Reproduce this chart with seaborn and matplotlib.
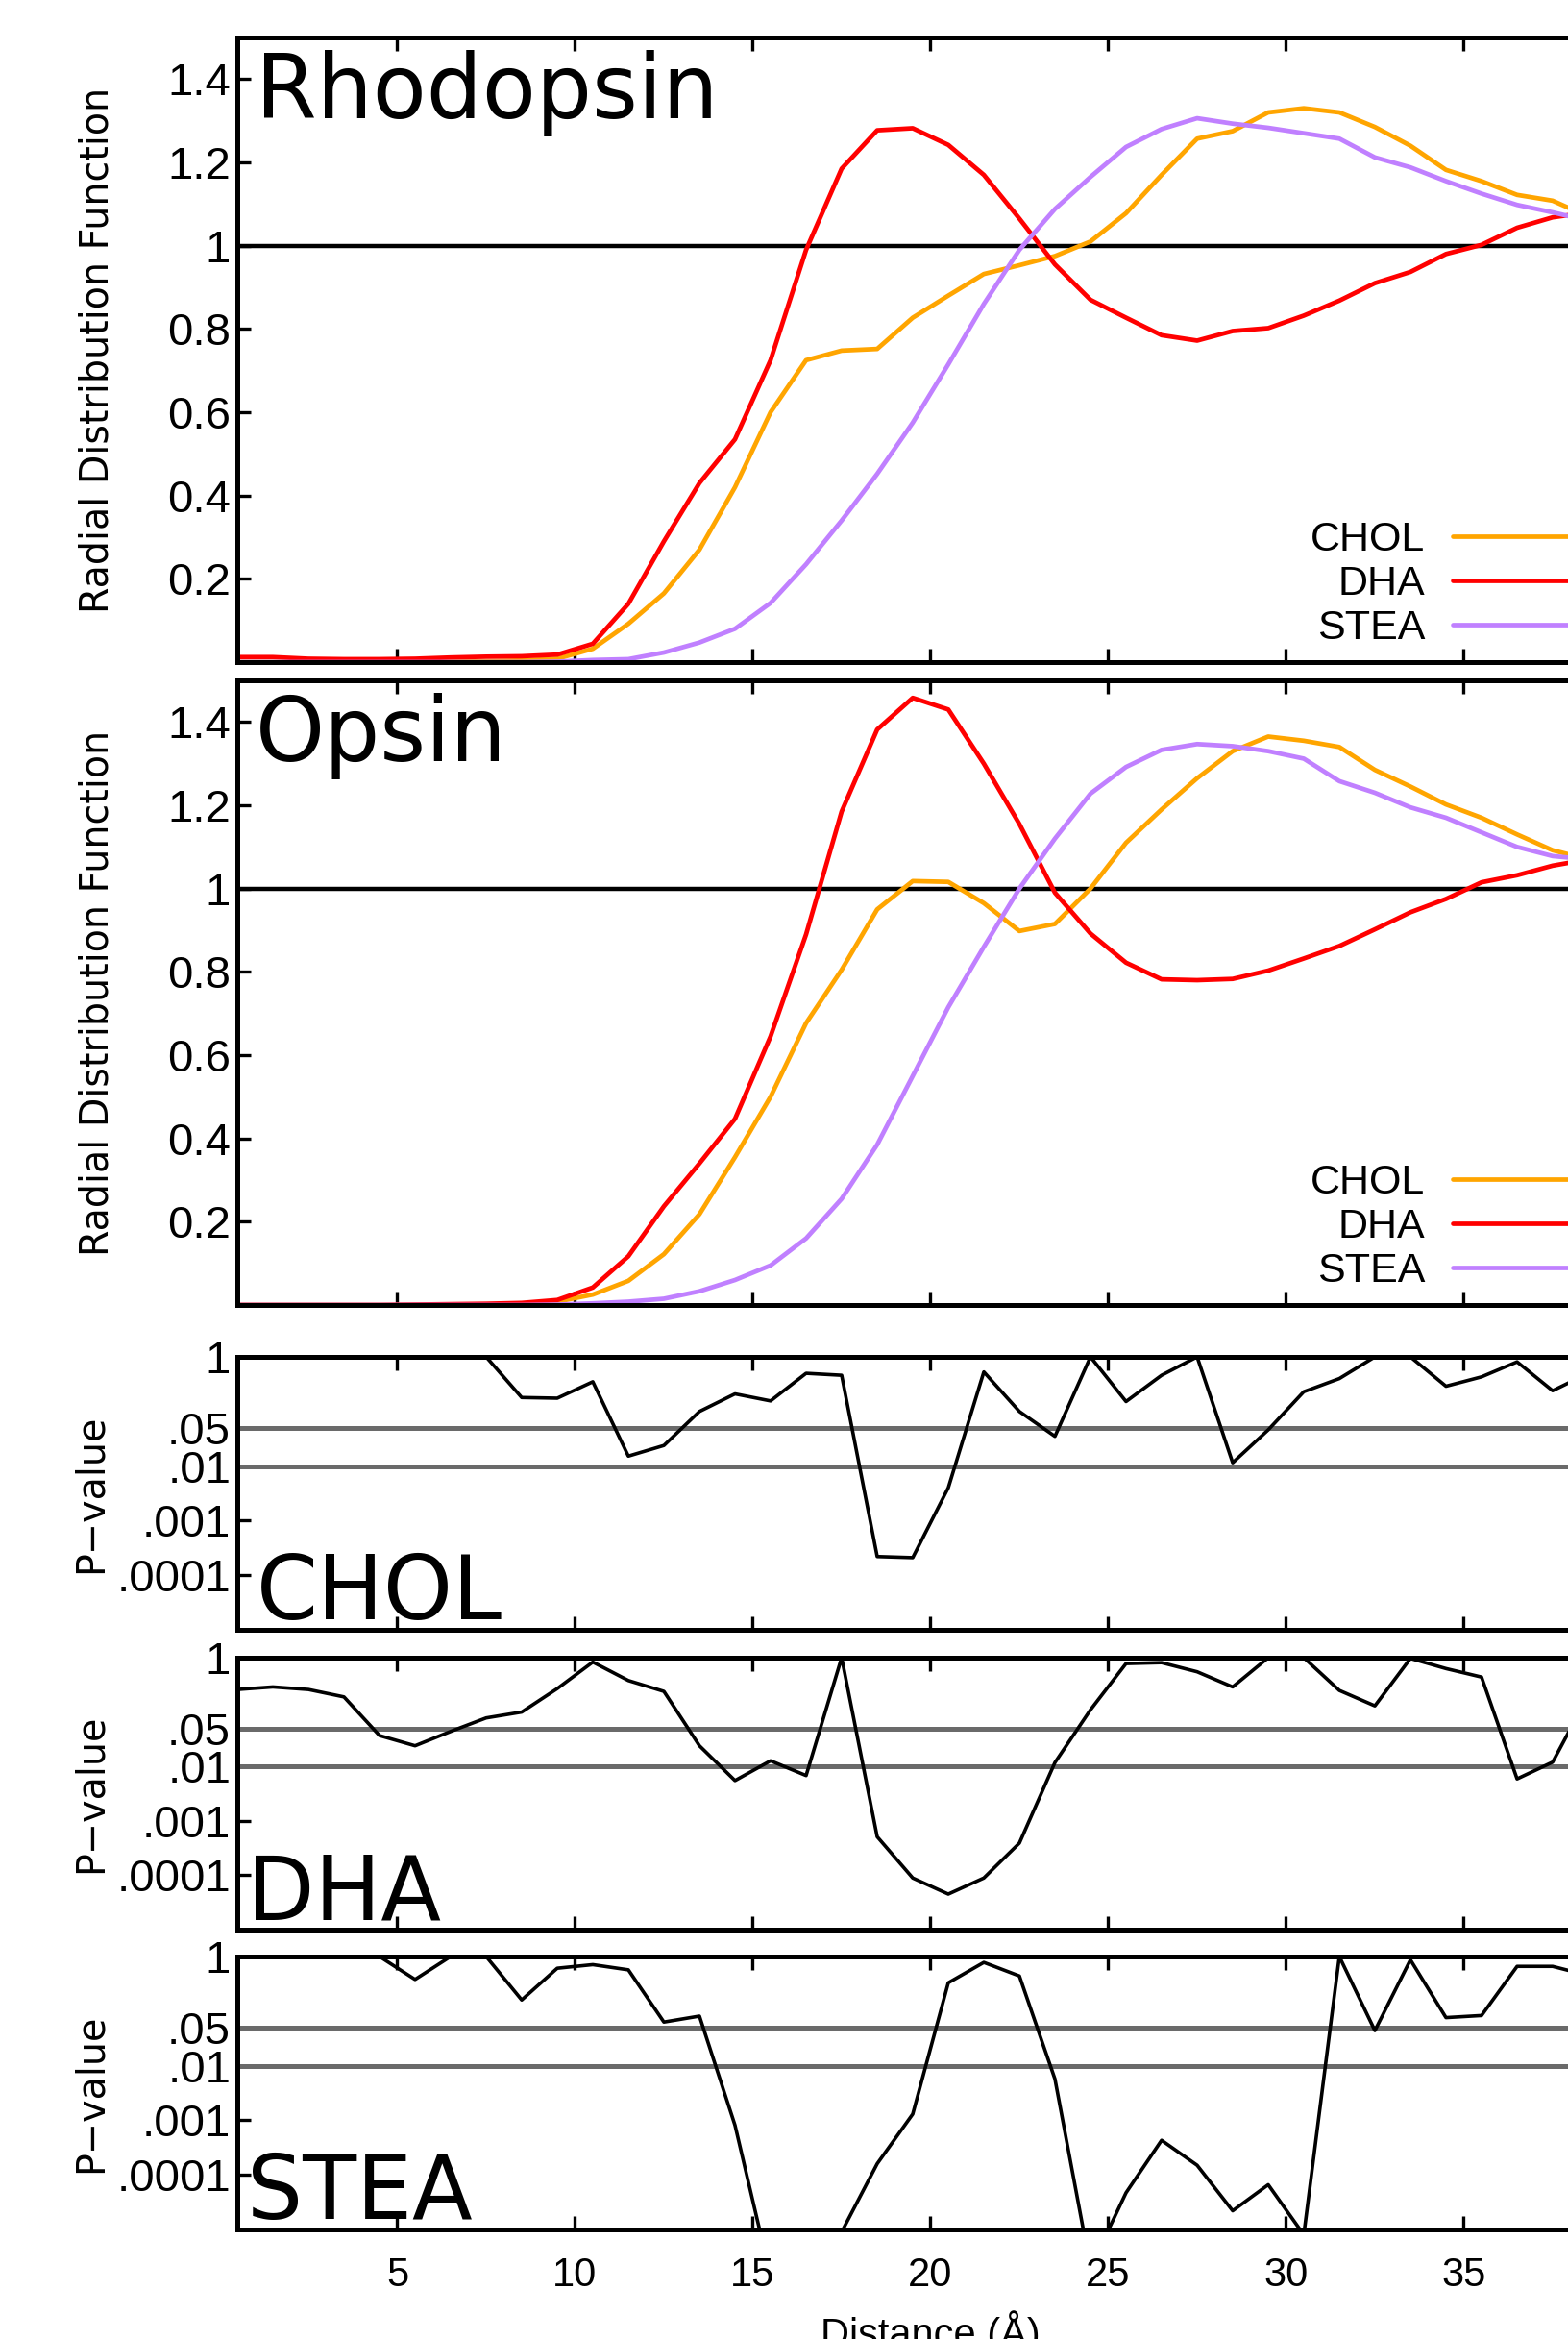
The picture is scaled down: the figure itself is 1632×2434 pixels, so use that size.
import matplotlib
matplotlib.use("Agg")
import matplotlib.pyplot as plt
import seaborn as sns

# bin centres (Angstrom)
distance = [0.5, 1.5, 2.5, 3.5, 4.5, 5.5, 6.5, 7.5, 8.5, 9.5,
            10.5, 11.5, 12.5, 13.5, 14.5, 15.5, 16.5, 17.5, 18.5, 19.5,
            20.5, 21.5, 22.5, 23.5, 24.5, 25.5, 26.5, 27.5, 28.5, 29.5,
            30.5, 31.5, 32.5, 33.5, 34.5, 35.5, 36.5, 37.5, 38.5, 39.5]

lipids = ["CHOL", "DHA", "STEA"]

# radial distribution functions, rhodopsin
rho_chol = [0.0, 0.0, 0.0, 0.0, 0.0, 0.0, 0.001, 0.002, 0.004, 0.008,
            0.032, 0.092, 0.165, 0.27, 0.42, 0.60, 0.725, 0.748, 0.752, 0.827,
            0.88, 0.932, 0.953, 0.975, 1.01, 1.078, 1.17, 1.257, 1.275, 1.32,
            1.33, 1.32, 1.285, 1.24, 1.182, 1.155, 1.122, 1.108, 1.07, 1.06]
rho_dha = [0.012, 0.012, 0.008, 0.007, 0.007, 0.008, 0.011, 0.013, 0.014, 0.018,
           0.044, 0.14, 0.29, 0.43, 0.535, 0.725, 0.99, 1.185, 1.277, 1.282,
           1.242, 1.17, 1.065, 0.955, 0.87, 0.827, 0.785, 0.772, 0.795, 0.802,
           0.832, 0.868, 0.91, 0.937, 0.98, 1.002, 1.043, 1.068, 1.08, 1.09]
rho_stea = [0.0, 0.0, 0.0, 0.0, 0.0, 0.0, 0.0, 0.0, 0.0, 0.001,
            0.005, 0.007, 0.023, 0.047, 0.08, 0.142, 0.235, 0.34, 0.452, 0.575,
            0.715, 0.86, 0.99, 1.088, 1.165, 1.237, 1.28, 1.306, 1.293, 1.283,
            1.27, 1.257, 1.212, 1.188, 1.155, 1.125, 1.098, 1.08, 1.06, 1.05]

# radial distribution functions, opsin
ops_chol = [0.0, 0.0, 0.0, 0.0, 0.0, 0.0, 0.0, 0.001, 0.003, 0.008,
            0.025, 0.058, 0.122, 0.218, 0.355, 0.50, 0.677, 0.805, 0.95, 1.018,
            1.016, 0.965, 0.898, 0.915, 1.0, 1.11, 1.19, 1.265, 1.33, 1.365,
            1.355, 1.34, 1.285, 1.245, 1.202, 1.17, 1.13, 1.092, 1.07, 1.06]
ops_dha = [0.0, 0.0, 0.0, 0.0, 0.0, 0.001, 0.002, 0.003, 0.005, 0.012,
           0.042, 0.117, 0.237, 0.34, 0.447, 0.645, 0.89, 1.185, 1.382, 1.458,
           1.43, 1.30, 1.155, 0.99, 0.892, 0.822, 0.782, 0.78, 0.783, 0.803,
           0.832, 0.862, 0.902, 0.943, 0.975, 1.015, 1.032, 1.055, 1.07, 1.08]
ops_stea = [0.0, 0.0, 0.0, 0.0, 0.0, 0.0, 0.0, 0.0, 0.0, 0.001,
            0.004, 0.008, 0.015, 0.033, 0.06, 0.095, 0.16, 0.255, 0.385, 0.55,
            0.715, 0.86, 1.0, 1.12, 1.228, 1.292, 1.333, 1.347, 1.342, 1.33,
            1.312, 1.258, 1.23, 1.195, 1.17, 1.135, 1.10, 1.078, 1.07, 1.06]

# p-values rhodopsin vs opsin
p_chol = [1.0, 1.0, 1.0, 1.0, 1.0, 1.0, 1.0, 1.0, 0.18, 0.175,
          0.35, 0.0152, 0.0238, 0.1, 0.21, 0.156, 0.5, 0.46, 2.2e-4, 2.1e-4,
          0.004, 0.53, 0.1, 0.035, 1.0, 0.152, 0.46, 1.0, 0.0115, 0.046,
          0.23, 0.40, 1.0, 1.0, 0.29, 0.43, 0.81, 0.24, 0.5, 0.6]
p_dha = [0.26, 0.29, 0.26, 0.19, 0.037, 0.024, 0.044, 0.078, 0.10, 0.27,
         0.83, 0.38, 0.24, 0.024, 0.0055, 0.0127, 0.0068, 1.0, 5.1e-4, 8.9e-5,
         4.5e-5, 8.9e-5, 3.9e-4, 0.0118, 0.11, 0.78, 0.81, 0.55, 0.29, 1.0,
         1.0, 0.25, 0.13, 0.97, 0.63, 0.44, 0.0059, 0.012, 0.2, 0.4]
p_stea = [1.0, 1.0, 1.0, 1.0, 1.0, 0.38, 1.0, 1.0, 0.16, 0.61,
          0.71, 0.57, 0.063, 0.081, 8.1e-4, 1.4e-6, 1e-7, 9e-6, 1.6e-4, 1.3e-3,
          0.33, 0.78, 0.44, 5.7e-3, 2e-6, 4.7e-5, 4.3e-4, 1.5e-4, 2.2e-5, 6.6e-5,
          8e-6, 1.0, 0.044, 0.87, 0.076, 0.083, 0.66, 0.66, 0.45, 0.5]

rdf_ticks = [0.2, 0.4, 0.6, 0.8, 1.0, 1.2, 1.4]
rdf_ticklabels = ["0.2", "0.4", "0.6", "0.8", "1", "1.2", "1.4"]
p_ticks = [1.0, 0.05, 0.01, 0.001, 0.0001]
p_ticklabels = ["1", ".05", ".01", ".001", ".0001"]
p_levels = [0.05, 0.01]
x_ticks = [5, 10, 15, 20, 25, 30, 35]

COLORS = ["#ffa500", "#ff0000", "#c080ff"]
BIG = 66
LW = 3.4

sns.set_style("ticks")
plt.rcParams["font.family"] = ["Liberation Sans", "DejaVu Sans"]
plt.rcParams.update({
    "axes.linewidth": 3.6,
    "axes.edgecolor": "black",
    "text.color": "black",
    "axes.labelcolor": "black",
    "xtick.color": "black",
    "ytick.color": "black",
})

fig = plt.figure(figsize=(16.33, 24.34), dpi=100)
FIG_H = 2434
LEFT = 247 / 1633
WIDTH = 1443 / 1633  # right part of the plot runs past the page edge


def box(top, bottom):
    return [LEFT, 1 - bottom / FIG_H, WIDTH, (bottom - top) / FIG_H]


def style_axis(ax):
    ax.set_xlim(0.5, 39.5)
    ax.set_xticks(x_ticks)
    ax.tick_params(axis="both", which="both", direction="in", length=10,
                   width=2.4, top=True, right=False, labelbottom=False)
    ax.tick_params(axis="y", pad=5)
    ax.set_xlabel("")


rdf_panels = [
    ("Rhodopsin", [rho_chol, rho_dha, rho_stea], (39, 689)),
    ("Opsin", [ops_chol, ops_dha, ops_stea], (708, 1358)),
]

for name, series, (top, bottom) in rdf_panels:
    ax = fig.add_axes(box(top, bottom))
    ax.axhline(1, color="black", lw=3.2, zorder=1.5)
    for label, vals, col in zip(lipids, series, COLORS):
        sns.lineplot(x=distance, y=vals, color=col, lw=LW, label=label, ax=ax)
    style_axis(ax)
    ax.set_ylim(0, 1.5)
    ax.set_yticks(rdf_ticks)
    ax.set_yticklabels(rdf_ticklabels, fontsize=34)
    ax.set_ylabel("Radial Distribution Function", fontsize=28.5,
                  family="DejaVu Sans")
    ax.yaxis.set_label_coords(-0.087, 0.5)
    ax.text(0.013, 0.98, name, transform=ax.transAxes, fontsize=BIG,
            family="DejaVu Sans", va="top", ha="left")
    ax.legend(loc="upper left", bbox_to_anchor=(0.774, 0.226), frameon=False,
              markerfirst=False, fontsize=31, handlelength=4,
              handletextpad=0.67, labelspacing=0.14, borderpad=0,
              borderaxespad=0)

p_panels = [
    ("CHOL", p_chol, (1412, 1696), 0.0135),
    ("DHA", p_dha, (1725, 2008), 0.007),
    ("STEA", p_stea, (2036, 2320), 0.0066),
]

for i, (name, vals, (top, bottom), tx) in enumerate(p_panels):
    ax = fig.add_axes(box(top, bottom))
    ax.set_yscale("log")
    for lev in p_levels:
        ax.axhline(lev, color="#6a6a6a", lw=3.6, zorder=1.5)
    sns.lineplot(x=distance, y=vals, color="black", lw=2.6, ax=ax)
    style_axis(ax)
    ax.set_ylim(1e-5, 1.0)
    ax.set_yticks(p_ticks)
    ax.set_yticklabels(p_ticklabels, fontsize=34)
    ax.minorticks_off()
    ax.set_ylabel("P\u2212value", fontsize=28.5, family="DejaVu Sans")
    ax.yaxis.set_label_coords(-0.092, 0.5)
    ax.text(tx, 0.037, name, transform=ax.transAxes, fontsize=BIG,
            family="DejaVu Sans", va="baseline", ha="left")
    if i == len(p_panels) - 1:
        ax.tick_params(axis="x", labelbottom=True, labelsize=30, pad=20)
        ax.set_xlabel("Distance (\u00c5)", fontsize=30, labelpad=12)

fig.savefig("out.png", dpi=100)
